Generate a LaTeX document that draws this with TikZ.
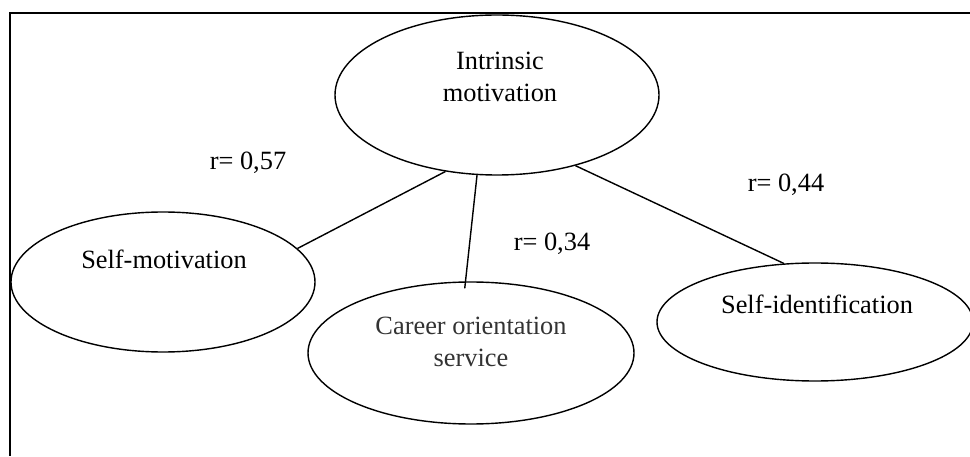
\documentclass[tikz,border=0pt]{standalone}
\usepackage{fontspec}
\setmainfont{Liberation Serif}
\usetikzlibrary{shapes.geometric}

\begin{document}
\begin{tikzpicture}[
        bubble/.style={draw, ellipse, line width=0.8pt, inner sep=0pt},
        bubbletext/.style={align=center, inner sep=0pt, font=\fontsize{15}{18.5}\selectfont},
        corr/.style={anchor=base, inner sep=0pt, font=\fontsize{15}{18}\selectfont},
        link/.style={line width=0.8pt}
    ]
        \useasboundingbox (0,0) rectangle (19.4,9.12);

        % Frame (only top and left edges are visible)
        \coordinate (FTL) at (0.2,8.86);
        \coordinate (FTR) at (19.4,8.86);
        \coordinate (FBL) at (0.2,0);
        \draw[line width=0.9pt] (FTR) -- (FTL) -- (FBL);

        % Ellipses
        \node[bubble, minimum width=6.48cm, minimum height=3.2cm] (im) at (9.94,7.22) {};
        \node[bubble, minimum width=6.08cm, minimum height=2.8cm] (sm) at (3.26,3.48) {};
        \node[bubble, minimum width=6.52cm, minimum height=2.84cm] (cos) at (9.42,2.06) {};
        \node[bubble, minimum width=6.32cm, minimum height=2.36cm] (si) at (16.3,2.68) {};

        % Texts inside the ellipses (set a little above the centre)
        \node[bubbletext] (imtext) at ([xshift=0.06cm,yshift=0.36cm]im.center) {Intrinsic\\motivation};
        \node[bubbletext] (smtext) at ([xshift=0.02cm,yshift=0.46cm]sm.center) {Self-motivation};
        \node[bubbletext, text=black!80] (costext) at ([yshift=0.22cm]cos.center) {Career orientation\\service};
        \node[bubbletext] (sitext) at ([xshift=0.04cm,yshift=0.36cm]si.center) {Self-identification};

        % Links from intrinsic motivation
        \draw[link] (im.236) -- (sm.14);
        \draw[link] (im.256) -- ([yshift=-0.14cm]cos.95);
        \draw[link] (im.318) -- (si.118);

        % Correlation values
        \node[corr] (r57) at (4.96,5.72) {r= 0,57};
        \node[corr] (r34) at (11.04,4.10) {r= 0,34};
        \node[corr] (r44) at (15.72,5.28) {r= 0,44};
    \end{tikzpicture}
\end{document}
